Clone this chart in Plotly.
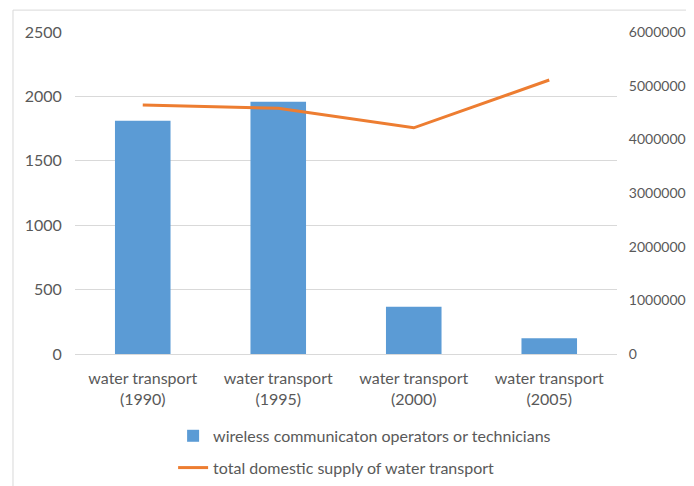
import plotly.graph_objects as go

categories = ["water transport<br>(1990)", "water transport<br>(1995)",
              "water transport<br>(2000)", "water transport<br>(2005)"]
operators = [1810, 1958, 367, 122]
supply = [4640000, 4580000, 4215000, 5105000]
bar_name = "wireless communicaton operators or technicians"
line_name = "total domestic supply of water transport"

FONT = "Lato"
GREY = "#595959"
FS = 16

fig = go.Figure()
fig.add_trace(go.Bar(x=categories, y=operators, name=bar_name,
                     marker=dict(color="#5B9BD5", line=dict(width=0)),
                     legendgroup="a", yaxis="y"))
fig.add_trace(go.Scatter(x=categories, y=supply, name=line_name, mode="lines",
                         line=dict(color="#ED7D31", width=3),
                         legendgroup="b", yaxis="y2"))

# page body has an 8px default margin, so figure coords = screen coords - 8
fig.update_layout(
    width=686, height=478,
    margin=dict(l=67, r=77, t=24, b=132, autoexpand=False),
    paper_bgcolor="white", plot_bgcolor="white",
    font=dict(family=FONT, size=FS, color=GREY),
    bargap=0.59,
    showlegend=True,
    legend=dict(orientation="v", x=0.181, xanchor="left", y=-0.2015, yanchor="top",
                font=dict(family=FONT, size=FS, color=GREY),
                tracegroupgap=8, itemwidth=30, bgcolor="rgba(0,0,0,0)"),
    xaxis=dict(showgrid=False, showline=False, ticks="outside", ticklen=10,
               automargin=False,
               tickcolor="rgba(0,0,0,0)", tickfont=dict(size=FS, color=GREY)),
    yaxis=dict(range=[0, 2500], tickvals=[0, 500, 1000, 1500, 2000, 2500],
               showgrid=True, gridcolor="#D9D9D9", gridwidth=1,
               zeroline=True, zerolinecolor="#D9D9D9", zerolinewidth=1,
               showline=False, ticks="outside", ticklen=9, automargin=False,
               tickcolor="rgba(0,0,0,0)", tickfont=dict(size=FS, color=GREY)),
    yaxis2=dict(range=[0, 6000000], overlaying="y", side="right",
                tickvals=[0, 1000000, 2000000, 3000000, 4000000, 5000000, 6000000],
                tickformat="d", showgrid=False, zeroline=False, showline=False,
                ticks="outside", ticklen=8, tickcolor="rgba(0,0,0,0)",
                automargin=False, tickfont=dict(size=14, color=GREY)),
    shapes=[dict(type="rect", xref="paper", yref="paper",
                 x0=-0.1144, x1=1.2, y0=-0.47, y1=1.068,
                 line=dict(color="#D9D9D9", width=1), fillcolor="rgba(0,0,0,0)",
                 layer="below")],
)

fig.write_html("out.html")
